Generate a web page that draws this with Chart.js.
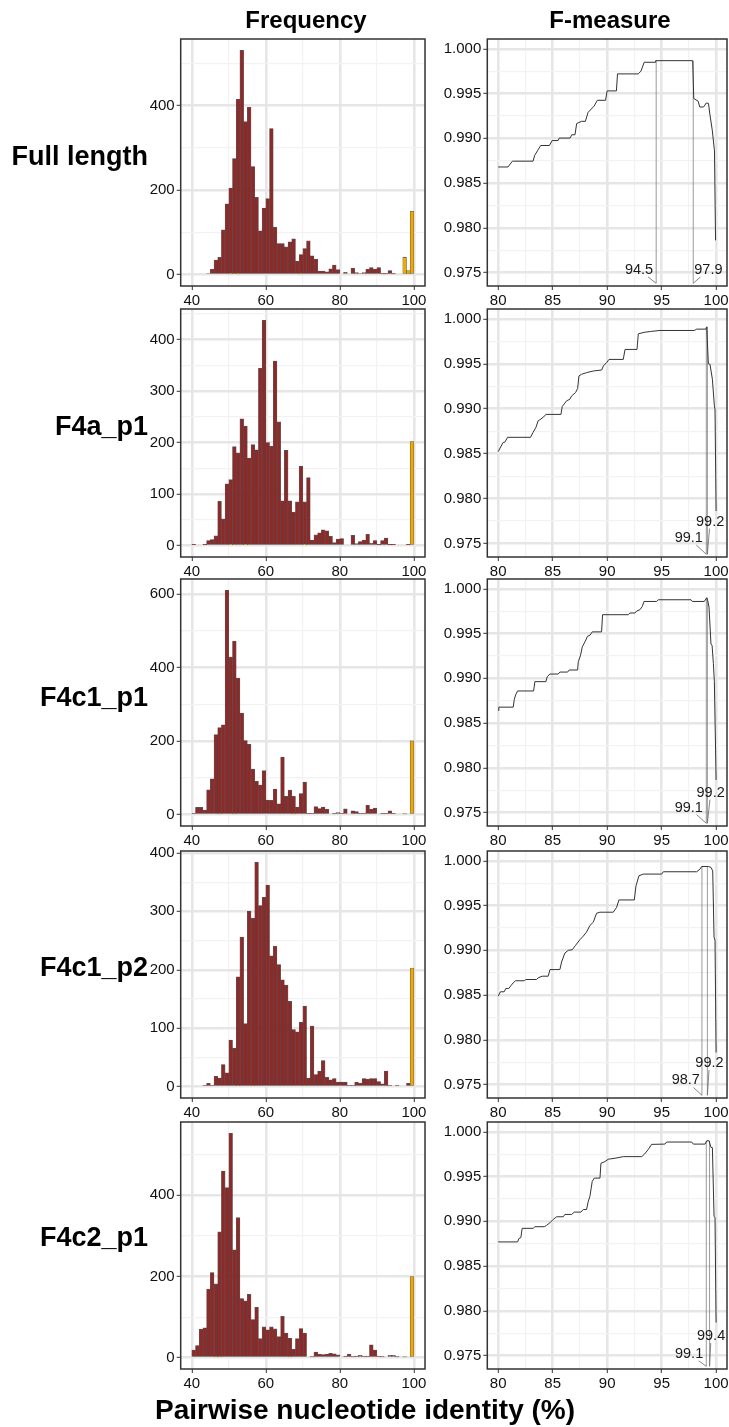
<!DOCTYPE html>
<html><head><meta charset="utf-8">
<script src="https://cdn.jsdelivr.net/npm/chart.js@4.4.1/dist/chart.umd.min.js"></script>
<style>
html,body{margin:0;padding:0;background:#fff;}
#wrap{position:relative;width:729px;height:1427px;overflow:hidden;font-family:'Liberation Sans',Arial,sans-serif;}
canvas{position:absolute;}
.title{position:absolute;font-weight:bold;font-size:24px;color:#000;white-space:nowrap;transform:translate(-50%,-50%);line-height:1;}
.rowlab{position:absolute;font-weight:bold;font-size:27px;color:#000;white-space:nowrap;transform:translate(-100%,-50%);line-height:1;}
.xtitle{position:absolute;font-weight:bold;font-size:28px;color:#000;white-space:nowrap;transform:translate(-50%,-50%);line-height:1;}
</style></head><body><div id="wrap"></div>
<script>
// ---------------- DATA ----------------
const rowNames = ['Full length', 'F4a_p1', 'F4c1_p1', 'F4c1_p2', 'F4c2_p1'];
const colTitles = ['Frequency', 'F-measure'];
const xAxisTitle = 'Pairwise nucleotide identity (%)';

const histBins = [40.5,41.5,42.5,43.5,44.5,45.5,46.5,47.5,48.5,49.5,50.5,51.5,52.5,53.5,54.5,55.5,56.5,57.5,58.5,59.5,60.5,61.5,62.5,63.5,64.5,65.5,66.5,67.5,68.5,69.5,70.5,71.5,72.5,73.5,74.5,75.5,76.5,77.5,78.5,79.5,80.5,81.5,82.5,83.5,84.5,85.5,86.5,87.5,88.5,89.5,90.5,91.5,92.5,93.5,94.5,95.5,96.5,97.5,98.5,99.5];

const histRed1 = [0,0,0,0,3,13,35,41,106,168, 205,275,415,531,362,396,256,183,104,158, 180,346,112,74,74,66,78,85,32,48, 62,80,45,37,9,9,7,14,23,12, 0,6,0,15,5,3,5,13,17,13, 17,2,2,10,2,0,0,0,0,0];
const histOrange1 = [0,0,0,0,0,0,0,0,0,0, 2,0,2,0,0,0,0,0,0,0, 0,0,0,0,0,0,0,0,0,2, 0,0,0,0,0,0,0,0,0,0, 0,0,0,0,0,0,0,0,0,0, 0,0,0,0,0,0,0,41,10,150];
const histRed2 = [2,0,0,2,10,12,19,86,52,120, 128,192,180,246,232,170,196,186,344,437, 200,193,358,240,87,185,87,65,85,154, 85,132,11,21,25,31,29,18,6,13, 14,0,0,20,4,8,11,22,5,10, 2,10,15,2,2,0,0,0,2,0];
const histOrange2 = [0,0,0,0,0,0,0,0,0,0, 2,0,0,0,2,0,0,0,0,0, 0,0,0,0,0,0,0,0,0,0, 2,0,0,0,0,0,0,0,0,0, 0,0,0,0,0,0,0,0,0,0, 0,0,0,0,0,0,0,0,0,202];
const histRed3 = [4,20,20,13,68,98,218,237,245,611, 429,472,372,277,202,192,124,91,81,120, 40,39,70,30,157,50,67,50,21,58, 89,4,4,22,17,21,15,0,4,6, 4,16,0,11,9,4,4,26,15,18, 0,3,3,11,3,0,0,0,0,0];
const histOrange3 = [0,0,0,0,0,0,0,2,0,0, 0,2,0,0,0,0,0,0,0,0, 0,0,0,0,0,0,0,2,0,0, 0,0,0,0,0,0,0,0,0,0, 0,0,0,0,0,0,0,0,0,0, 0,0,0,0,0,0,0,2,0,201];
const histRed4 = [0,0,0,2,6,2,18,15,38,24, 80,66,188,256,108,300,288,384,310,324, 345,224,240,209,183,174,146,98,94,110, 138,15,104,21,27,45,16,12,14,8, 8,8,2,2,8,6,14,13,14,14, 9,5,27,2,0,2,0,0,6,0];
const histOrange4 = [0,0,0,0,0,0,0,0,0,0, 0,0,2,0,0,0,2,0,0,0, 0,0,0,0,0,0,0,0,0,0, 2,0,0,0,0,0,0,0,0,0, 0,0,0,0,0,0,0,0,0,0, 0,0,0,0,0,0,0,0,0,203];
const histRed5 = [19,30,70,74,169,210,182,310,460,419, 553,266,345,146,140,156,94,124,47,76, 69,76,71,52,102,61,48,21,47,72, 61,0,2,14,9,8,9,11,10,7, 0,4,9,2,4,6,4,4,32,19, 4,2,0,6,6,2,0,0,0,0];
const histOrange5 = [0,0,0,0,0,0,2,2,0,0, 0,0,0,0,0,0,0,0,0,0, 0,0,0,0,0,0,2,0,0,0, 0,0,0,0,0,0,0,0,0,0, 0,0,0,0,0,0,0,0,0,0, 0,0,0,0,0,0,0,2,0,200];

const histXTicks = [40, 60, 80, 100];
const histXMinor = [50, 70, 90];
const histYTicks = [[0,200,400], [0,100,200,300,400], [0,200,400,600], [0,100,200,300,400], [0,200,400]];
const histYMinor = [[100,300,500], [50,150,250,350,450], [100,300,500], [50,150,250,350], [100,300,500]];

const fmXTicks = [80, 85, 90, 95, 100];
const fmXMinor = [82.5, 87.5, 92.5, 97.5];
const fmYTicks = [0.975, 0.980, 0.985, 0.990, 0.995, 1.000];
const fmYMinor = [0.9775, 0.9825, 0.9875, 0.9925, 0.9975];

const fmX1 = [80.0,80.9,81.3,83.2,83.35,83.6,83.9,84.7,84.95,85.5,85.6,86.6,86.75,87.05,87.2,87.65,88.0,88.25,88.8,89.1,89.85,90.0,90.85,90.95,92.85,93.1,93.4,94.4,94.45,97.85,97.95,98.35,98.5,98.85,99.1,99.3,99.45,99.65,99.85,99.95];
const fmY1 = [0.9868,0.9868,0.98745,0.98745,0.9881,0.9886,0.9892,0.9892,0.98975,0.98975,0.99003,0.99003,0.9904,0.9904,0.99165,0.9919,0.9919,0.9929,0.9936,0.99425,0.99425,0.9953,0.9953,0.9972,0.9972,0.9975,0.9985,0.9985,0.99868,0.99868,0.99445,0.99415,0.9935,0.9935,0.99395,0.9939,0.9925,0.9909,0.9886,0.9786];
const fmX2 = [80.0,80.46,80.6,80.86,82.97,83.2,83.46,83.67,83.92,84.2,84.4,85.76,85.88,86.28,86.58,86.74,87.1,87.29,87.41,87.65,88.11,88.73,89.5,89.65,89.95,90.17,91.48,91.64,92.74,92.86,93.47,94.0,94.85,98.0,98.22,99.05,99.14,99.29,99.44,99.66,99.84,99.9,100.0];
const fmY2 = [0.98523,0.98626,0.98626,0.98682,0.98682,0.98737,0.98792,0.98866,0.98885,0.98914,0.98937,0.98937,0.99025,0.99088,0.99106,0.99143,0.9918,0.99225,0.99365,0.99383,0.99402,0.9942,0.99431,0.99476,0.99513,0.99549,0.99549,0.9966,0.9966,0.99834,0.99852,0.9986,0.99871,0.99871,0.99886,0.99886,0.99911,0.9950,0.99494,0.99328,0.99032,0.98996,0.97862];
const fmX3 = [80.0,80.06,81.38,81.47,81.6,81.78,83.25,83.37,84.38,84.5,84.75,85.51,85.66,86.37,86.52,87.29,87.35,87.56,87.72,87.96,88.2,88.42,88.63,89.49,89.58,91.94,92.09,92.56,92.71,93.01,93.23,93.38,94.54,94.7,97.7,97.82,98.92,99.14,99.23,99.35,99.53,99.63,99.75,99.84,100.0];
const fmY3 = [0.98641,0.98678,0.98678,0.98759,0.98815,0.98859,0.98859,0.98963,0.98963,0.99019,0.99048,0.99048,0.9907,0.9907,0.99093,0.99093,0.99185,0.99259,0.99352,0.99407,0.9947,0.99481,0.99519,0.99519,0.99711,0.99711,0.9973,0.9973,0.99752,0.99767,0.99804,0.99859,0.99859,0.99878,0.99878,0.99859,0.99859,0.999,0.9987,0.99796,0.99381,0.9937,0.99167,0.98963,0.97863];
const fmX4 = [80.0,80.21,80.55,80.7,80.97,81.16,81.38,81.59,82.39,82.54,83.52,83.67,84.04,84.59,84.75,85.66,85.82,86.12,86.43,86.8,87.1,87.5,87.81,88.11,88.42,88.73,89.03,89.34,90.56,90.87,91.08,92.49,92.65,92.92,93.32,95.0,95.16,98.22,98.52,98.68,99.29,99.53,99.69,99.81,99.9,100.0];
const fmY4 = [0.98489,0.98537,0.98537,0.98574,0.98574,0.98604,0.98637,0.9866,0.9866,0.98674,0.98674,0.98693,0.98711,0.98711,0.98785,0.98785,0.9887,0.9897,0.99,0.99007,0.99056,0.99119,0.99159,0.99204,0.99278,0.99315,0.99415,0.99426,0.99426,0.99481,0.99563,0.99563,0.99722,0.99833,0.99852,0.99852,0.99878,0.99878,0.99907,0.99937,0.99937,0.99926,0.99889,0.99148,0.99111,0.97859];
const fmX5 = [80.0,81.78,81.9,82.08,82.2,83.21,83.37,84.23,84.44,84.75,85.05,85.36,85.97,86.12,86.74,86.98,87.59,87.81,88.11,88.27,88.42,88.63,88.82,89.34,89.43,89.8,90.1,90.72,91.48,93.17,93.41,93.78,94.08,95.3,95.46,97.76,97.91,98.98,99.14,99.35,99.53,99.66,99.81,99.9,100.0];
const fmY5 = [0.9877,0.9877,0.98807,0.98818,0.98922,0.98922,0.9894,0.9894,0.98955,0.98984,0.99021,0.99051,0.99051,0.99077,0.99077,0.99103,0.99103,0.99132,0.99132,0.99225,0.9928,0.99446,0.99483,0.99483,0.99649,0.99668,0.99694,0.99705,0.99723,0.99723,0.99749,0.99804,0.9986,0.99863,0.99886,0.99886,0.99863,0.99863,0.999,0.999,0.99826,0.99823,0.99058,0.9904,0.97869];

// thresholds (x), curve value at threshold, label positions (data units)
const fmThr = [[94.5, 97.9], [99.1, 99.2], [99.1, 99.2], [98.7, 99.2], [99.1, 99.4]];
const fmThrF = [[0.99868, 0.99868], [0.99911, 0.99911], [0.999, 0.999], [0.99937, 0.99937], [0.999, 0.999]];
const fmThrBase = 0.9738;
const fmLabX = [[92.93, 99.29], [97.49, 99.45], [97.49, 99.5], [97.22, 99.39], [97.52, 99.54]];
const fmLabY = [[0.97529, 0.97529], [0.97561, 0.97744], [0.97556, 0.97722], [0.97546, 0.9774], [0.9752, 0.97719]];

// ---------------- LAYOUT / STYLE ----------------
const rowTop = [38.5, 309, 579, 850.5, 1122];
const rowBot = [286, 557, 826, 1098, 1369];
const rowLabY = [156, 426, 697, 967, 1237];
const H_L = 180.7, H_R = 425, F_L = 487.3, F_R = 727;
const RED = '#8C2A2A', ORANGE = '#EFA900', BAR_EDGE = 'rgba(50,50,50,0.8)';
const MAJOR_GRID = '#E6E6E6', MINOR_GRID = '#F2F2F2';
const FONT = "'Liberation Sans', Arial, sans-serif";
Chart.defaults.font.family = FONT;

const wrap = document.getElementById('wrap');
const histR = [histRed1, histRed2, histRed3, histRed4, histRed5];
const histO = [histOrange1, histOrange2, histOrange3, histOrange4, histOrange5];
const fmXs = [fmX1, fmX2, fmX3, fmX4, fmX5];
const fmYs = [fmY1, fmY2, fmY3, fmY4, fmY5];

function mkTicks(major, minor) {
  return major.map(v => ({value: v, minor: false}))
    .concat(minor.map(v => ({value: v, minor: true})))
    .sort((a, b) => a.value - b.value);
}
const gridOpts = {
  offset: false,
  drawOnChartArea: true, drawTicks: true, tickLength: 4,
  color: c => (c.tick && c.tick.minor) ? MINOR_GRID : MAJOR_GRID,
  lineWidth: c => (c.tick && c.tick.minor) ? 1.2 : 2.6,
  tickColor: c => (c.tick && c.tick.minor) ? 'rgba(0,0,0,0)' : '#333',
  tickWidth: 1
};
function tickOpts(fmt) {
  return {
    color: '#111', font: {family: FONT, size: 15}, padding: 2,
    autoSkip: false, maxRotation: 0, minRotation: 0,
    callback: (v, i, t) => (t[i] && t[i].minor) ? '' : fmt(v)
  };
}
const boxPlugin = {
  id: 'panelBox',
  afterDatasetsDraw(chart) {
    const a = chart.chartArea, ctx = chart.ctx;
    ctx.save(); ctx.strokeStyle = '#333'; ctx.lineWidth = 1.5;
    ctx.strokeRect(a.left, a.top, a.right - a.left, a.bottom - a.top);
    ctx.restore();
  }
};
const labelPlugin = {
  id: 'thrLabels',
  afterDatasetsDraw(chart, args, opts) {
    const ctx = chart.ctx, xs = chart.scales.x, ys = chart.scales.y;
    ctx.save();
    ctx.font = '14.5px ' + FONT;
    ctx.textAlign = 'center'; ctx.textBaseline = 'middle';
    (opts.items || []).forEach(it => {
      const lx = xs.getPixelForValue(it.lx), ly = ys.getPixelForValue(it.ly);
      const px = xs.getPixelForValue(it.x), py = ys.getPixelForValue(it.y);
      const hw = ctx.measureText(it.text).width / 2 + 1, hh = 7;
      const dx = px - lx, dy = py - ly;
      const t = Math.min(dx ? Math.abs(hw / dx) : Infinity, dy ? Math.abs(hh / dy) : Infinity);
      if (t < 1) {
        ctx.strokeStyle = '#666'; ctx.lineWidth = 0.8;
        ctx.beginPath(); ctx.moveTo(lx + dx * t, ly + dy * t); ctx.lineTo(px, py); ctx.stroke();
      }
      ctx.fillStyle = '#1a1a1a';
      ctx.fillText(it.text, lx, ly);
    });
    ctx.restore();
  }
};

function makeCanvas(left, top, w, h) {
  const c = document.createElement('canvas');
  c.width = w; c.height = h;
  c.style.left = left + 'px'; c.style.top = top + 'px';
  c.style.width = w + 'px'; c.style.height = h + 'px';
  wrap.appendChild(c);
  return c;
}

function makeHist(i) {
  const T = rowTop[i], B = rowBot[i], padTop = 8, axisH = 32;
  const left = 110, right = 432;
  const c = makeCanvas(left, T - padTop, right - left, padTop + (B - T) + axisH);
  const red = histR[i], org = histO[i];
  const maxV = Math.max(...red, ...org);
  const bar = (vals, col, ord) => ({
    data: histBins.map((x, j) => ({x: x, y: vals[j] ? vals[j] : null})),
    backgroundColor: col, borderColor: BAR_EDGE, borderWidth: 0.6, borderSkipped: false,
    barPercentage: 1, categoryPercentage: 1, grouped: false, order: ord
  });
  new Chart(c, {
    type: 'bar',
    data: {datasets: [bar(org, ORANGE, 0), bar(red, RED, 1)]},
    options: {
      responsive: false, animation: false, devicePixelRatio: 1,
      layout: {padding: {top: padTop, right: right - H_R, left: 0, bottom: 0}},
      plugins: {legend: {display: false}, tooltip: {enabled: false}},
      scales: {
        x: {type: 'linear', min: 37, max: 103, offset: false,
          afterBuildTicks: s => { s.ticks = mkTicks(histXTicks, histXMinor); },
          afterFit: s => { s.height = axisH; s.paddingLeft = 0; s.paddingRight = 0; },
          grid: gridOpts, border: {display: false}, ticks: tickOpts(v => String(v))},
        y: {type: 'linear', min: -0.05 * maxV, max: 1.05 * maxV,
          afterBuildTicks: s => { s.ticks = mkTicks(histYTicks[i], histYMinor[i]); },
          afterFit: s => { s.width = H_L - left; s.paddingTop = 0; s.paddingBottom = 0; },
          grid: gridOpts, border: {display: false}, ticks: tickOpts(v => String(v))}
      }
    },
    plugins: [boxPlugin]
  });
}

function makeFm(i) {
  const T = rowTop[i], B = rowBot[i], padTop = 8, axisH = 32;
  const left = 433, right = 729;
  const c = makeCanvas(left, T - padTop, right - left, padTop + (B - T) + axisH);
  const xs = fmXs[i], ys = fmYs[i];
  const datasets = [{
    data: xs.map((x, j) => ({x: x, y: ys[j]})),
    showLine: true, borderColor: '#333', borderWidth: 1, pointRadius: 0, tension: 0, order: 0
  }];
  fmThr[i].forEach((t, k) => {
    datasets.push({
      data: [{x: t, y: fmThrBase}, {x: t, y: fmThrF[i][k]}],
      showLine: true, borderColor: 'rgba(120,120,120,0.75)', borderWidth: 1, pointRadius: 0, order: 1
    });
  });
  const items = fmThr[i].map((t, k) => ({
    text: t.toFixed(1), x: t, y: fmThrBase, lx: fmLabX[i][k], ly: fmLabY[i][k]
  }));
  new Chart(c, {
    type: 'scatter',
    data: {datasets: datasets},
    options: {
      responsive: false, animation: false, devicePixelRatio: 1,
      layout: {padding: {top: padTop, right: right - F_R, left: 0, bottom: 0}},
      plugins: {legend: {display: false}, tooltip: {enabled: false}, thrLabels: {items: items}},
      scales: {
        x: {type: 'linear', min: 79, max: 101, offset: false,
          afterBuildTicks: s => { s.ticks = mkTicks(fmXTicks, fmXMinor); },
          afterFit: s => { s.height = axisH; s.paddingLeft = 0; s.paddingRight = 0; },
          grid: gridOpts, border: {display: false}, ticks: tickOpts(v => String(v))},
        y: {type: 'linear', min: 0.9735, max: 1.0011,
          afterBuildTicks: s => { s.ticks = mkTicks(fmYTicks, fmYMinor); },
          afterFit: s => { s.width = F_L - left; s.paddingTop = 0; s.paddingBottom = 0; },
          grid: gridOpts, border: {display: false}, ticks: tickOpts(v => v.toFixed(3))}
      }
    },
    plugins: [boxPlugin, labelPlugin]
  });
}

for (let i = 0; i < 5; i++) { makeHist(i); makeFm(i); }

function addText(cls, txt, x, y) {
  const d = document.createElement('div');
  d.className = cls; d.textContent = txt;
  d.style.left = x + 'px'; d.style.top = y + 'px';
  wrap.appendChild(d);
}
addText('title', colTitles[0], 306, 20);
addText('title', colTitles[1], 610, 20);
rowNames.forEach((n, i) => addText('rowlab', n, 148, rowLabY[i]));
addText('xtitle', xAxisTitle, 365, 1410);
</script></body></html>
